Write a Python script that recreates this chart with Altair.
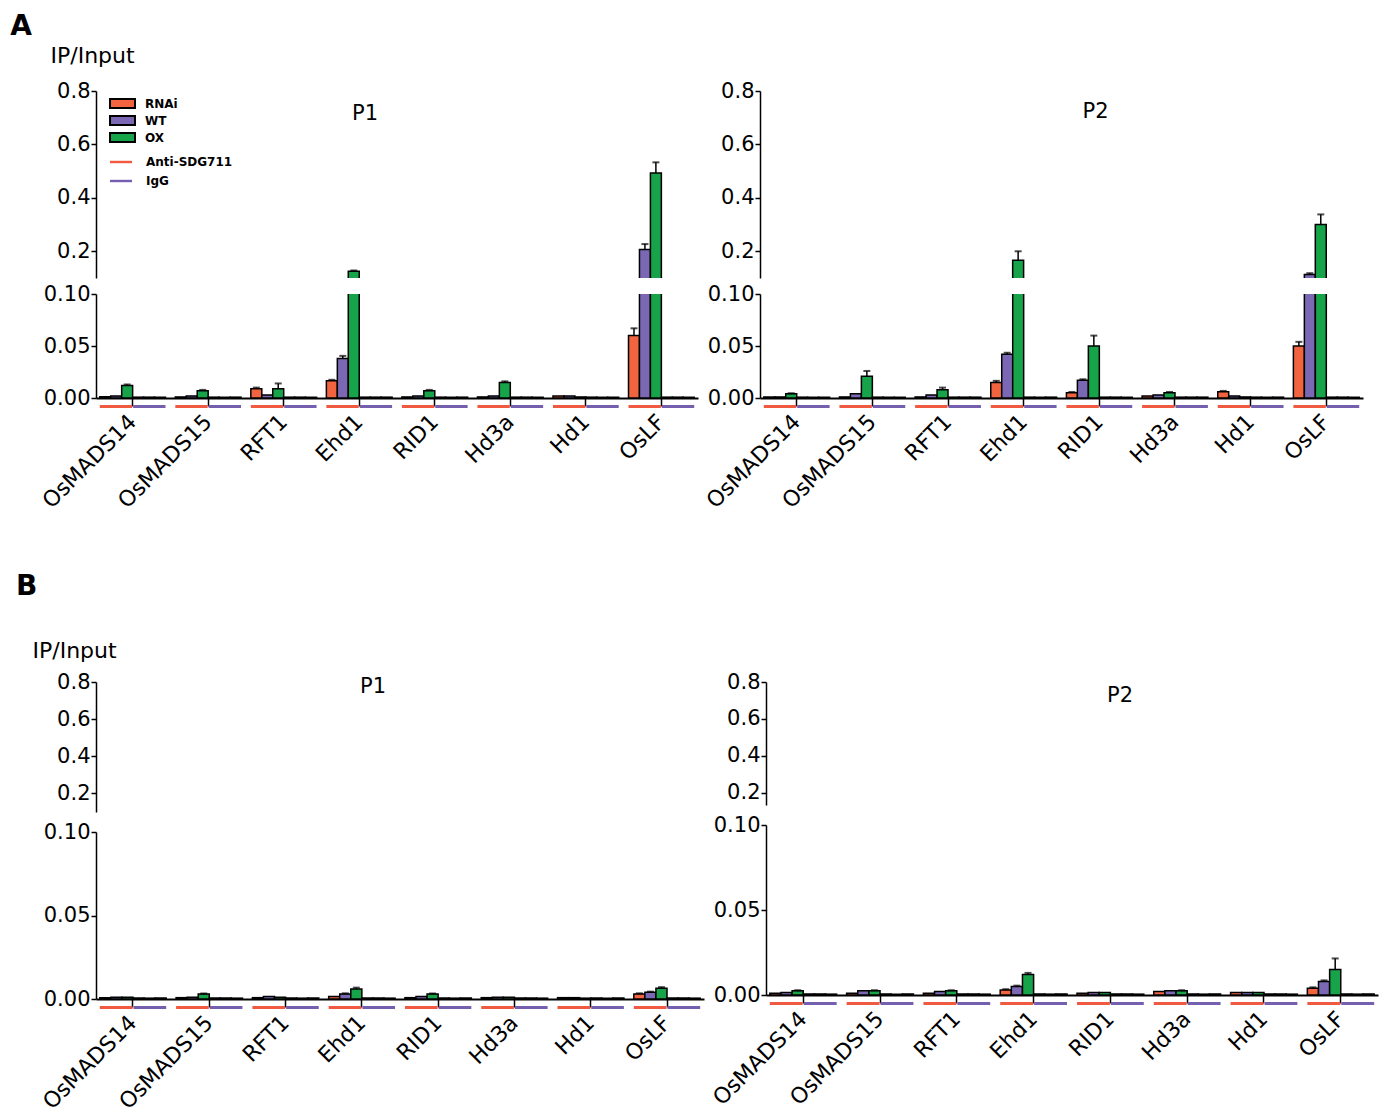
import altair as alt
import pandas as pd

genes = ["OsMADS14", "OsMADS15", "RFT1", "Ehd1", "RID1", "Hd3a", "Hd1", "OsLF"]
genotypes = ["RNAi", "WT", "OX"]
antibodies = ["Anti-SDG711", "IgG"]
geno_colors = ["#f26440", "#7b68b4", "#17a34a"]
ab_colors = ["#f05a40", "#7560b0"]

# ---- Panel A, P1 (Anti-SDG711) ----
a1_rnai = [0.0012, 0.0010, 0.0090, 0.0165, 0.0010, 0.0010, 0.0020, 0.0600]
a1_wt = [0.0020, 0.0020, 0.0030, 0.0380, 0.0020, 0.0020, 0.0020, 0.2070]
a1_ox = [0.0120, 0.0070, 0.0090, 0.1250, 0.0070, 0.0150, 0.0010, 0.4930]
a1_rnai_err = [0.0, 0.0, 0.0010, 0.0010, 0.0, 0.0, 0.0, 0.0070]
a1_wt_err = [0.0, 0.0, 0.0, 0.0025, 0.0, 0.0, 0.0, 0.0200]
a1_ox_err = [0.0010, 0.0008, 0.0050, 0.0030, 0.0008, 0.0010, 0.0, 0.0400]
a1_igg_rnai = [0.0008, 0.0008, 0.0008, 0.0008, 0.0008, 0.0008, 0.0008, 0.0008]
a1_igg_wt = [0.0008, 0.0007, 0.0008, 0.0008, 0.0007, 0.0008, 0.0007, 0.0008]
a1_igg_ox = [0.0007, 0.0008, 0.0007, 0.0008, 0.0008, 0.0007, 0.0008, 0.0007]

# ---- Panel A, P2 ----
a2_rnai = [0.0010, 0.0010, 0.0010, 0.0150, 0.0050, 0.0020, 0.0060, 0.0500]
a2_wt = [0.0010, 0.0040, 0.0030, 0.0420, 0.0170, 0.0030, 0.0020, 0.1130]
a2_ox = [0.0040, 0.0210, 0.0080, 0.1660, 0.0500, 0.0050, 0.0010, 0.3000]
a2_rnai_err = [0.0, 0.0, 0.0, 0.0015, 0.0008, 0.0, 0.0008, 0.0040]
a2_wt_err = [0.0, 0.0, 0.0, 0.0015, 0.0010, 0.0, 0.0, 0.0050]
a2_ox_err = [0.0005, 0.0050, 0.0020, 0.0340, 0.0100, 0.0008, 0.0, 0.0380]
a2_igg_rnai = [0.0008, 0.0008, 0.0008, 0.0008, 0.0008, 0.0008, 0.0008, 0.0008]
a2_igg_wt = [0.0007, 0.0008, 0.0008, 0.0007, 0.0008, 0.0008, 0.0007, 0.0008]
a2_igg_ox = [0.0008, 0.0007, 0.0008, 0.0008, 0.0007, 0.0008, 0.0008, 0.0007]

# ---- Panel B, P1 ----
b1_rnai = [0.0008, 0.0008, 0.0008, 0.0015, 0.0008, 0.0008, 0.0008, 0.0030]
b1_wt = [0.0010, 0.0010, 0.0015, 0.0030, 0.0015, 0.0010, 0.0008, 0.0040]
b1_ox = [0.0010, 0.0030, 0.0010, 0.0060, 0.0030, 0.0010, 0.0005, 0.0065]
b1_rnai_err = [0.0, 0.0, 0.0, 0.0, 0.0, 0.0, 0.0, 0.0004]
b1_wt_err = [0.0, 0.0, 0.0, 0.0004, 0.0, 0.0, 0.0, 0.0004]
b1_ox_err = [0.0, 0.0003, 0.0, 0.0008, 0.0003, 0.0, 0.0, 0.0006]
b1_igg_rnai = [0.0006, 0.0006, 0.0006, 0.0006, 0.0006, 0.0006, 0.0006, 0.0006]
b1_igg_wt = [0.0005, 0.0006, 0.0005, 0.0006, 0.0005, 0.0006, 0.0005, 0.0006]
b1_igg_ox = [0.0006, 0.0005, 0.0006, 0.0005, 0.0006, 0.0005, 0.0006, 0.0005]

# ---- Panel B, P2 ----
b2_rnai = [0.0010, 0.0010, 0.0010, 0.0030, 0.0010, 0.0020, 0.0015, 0.0040]
b2_wt = [0.0015, 0.0025, 0.0020, 0.0050, 0.0015, 0.0025, 0.0015, 0.0080]
b2_ox = [0.0025, 0.0025, 0.0025, 0.0120, 0.0015, 0.0025, 0.0015, 0.0150]
b2_rnai_err = [0.0, 0.0, 0.0, 0.0004, 0.0, 0.0, 0.0, 0.0005]
b2_wt_err = [0.0, 0.0, 0.0, 0.0005, 0.0, 0.0, 0.0, 0.0006]
b2_ox_err = [0.0003, 0.0003, 0.0003, 0.0010, 0.0, 0.0003, 0.0, 0.0065]
b2_igg_rnai = [0.0006, 0.0006, 0.0006, 0.0006, 0.0006, 0.0006, 0.0006, 0.0006]
b2_igg_wt = [0.0006, 0.0005, 0.0006, 0.0005, 0.0006, 0.0005, 0.0006, 0.0005]
b2_igg_ox = [0.0005, 0.0006, 0.0005, 0.0006, 0.0005, 0.0006, 0.0005, 0.0006]

sub_order = [a + " " + g for a in antibodies for g in genotypes]
FONT = "DejaVu Sans"


def build(rnai, wt, ox, rnai_e, wt_e, ox_e, g_rnai, g_wt, g_ox):
    rows = []
    for i, gene in enumerate(genes):
        for geno, vals, errs in (("RNAi", rnai, rnai_e), ("WT", wt, wt_e), ("OX", ox, ox_e)):
            rows.append(dict(gene=gene, antibody="Anti-SDG711", genotype=geno,
                             sub="Anti-SDG711 " + geno, value=vals[i], err=errs[i]))
        for geno, vals in (("RNAi", g_rnai), ("WT", g_wt), ("OX", g_ox)):
            rows.append(dict(gene=gene, antibody="IgG", genotype=geno,
                             sub="IgG " + geno, value=vals[i], err=0.0))
    df = pd.DataFrame(rows)
    df["hi"] = df["value"] + df["err"]
    return df


under_df = pd.DataFrame([dict(gene=g, antibody=a) for g in genes for a in antibodies])


def panel(df, name, tdx, tdy, up_dom, up_h, lo_dom, lo_h, width, gap,
          ytitle=None, ytx=0, yty=0, legend=False):
    xsc = alt.Scale(paddingInner=0.13, paddingOuter=0.05)
    xo = alt.XOffset("sub:N", sort=sub_order,
                     scale=alt.Scale(domain=sub_order, paddingInner=0, paddingOuter=0))

    fill_leg = None
    ab_leg = None
    if legend:
        fill_leg = alt.Legend(title=None, orient="none", legendX=19, legendY=5,
                              symbolType="M-2,-0.72H2V0.72H-2Z", symbolSize=156,
                              symbolStrokeColor="black", symbolStrokeWidth=2,
                              symbolOpacity=1,
                              labelFont=FONT, labelFontSize=12, labelFontWeight="bold",
                              rowPadding=0, labelOffset=15)
        ab_leg = alt.Legend(title=None, orient="none", legendX=19, legendY=65,
                            symbolType="M-2,-0.22H2V0.22H-2Z", symbolSize=121,
                            symbolStrokeWidth=0, symbolOpacity=1,
                            labelFont=FONT, labelFontSize=12, labelFontWeight="bold",
                            rowPadding=7, labelOffset=19)

    def ax_y(values, fmt, title=None):
        kw = dict(values=values, format=fmt, labelFont=FONT, labelFontSize=21,
                  labelColor="black", tickColor="black", domainColor="black",
                  tickSize=5, tickWidth=1.5, domainWidth=1.5, labelPadding=1,
                  grid=False)
        if title:
            kw.update(title=title, titleAngle=0, titleAlign="left", titleBaseline="alphabetic",
                      titleX=ytx, titleY=yty, titleFont=FONT, titleFontSize=22,
                      titleFontWeight="normal", titleColor="black")
        else:
            kw.update(title=None)
        return alt.Axis(**kw)

    def data_layers(ydom, yaxis, xaxis, leg):
        ysc = alt.Scale(domain=ydom, nice=False, zero=False)
        x = alt.X("gene:N", sort=genes, scale=xsc, title=None, axis=xaxis)
        base = alt.Chart(df)
        bars = base.mark_bar(clip=True, stroke="black", strokeWidth=1.5).encode(
            x=x, xOffset=xo,
            y=alt.Y("value:Q", scale=ysc, axis=yaxis),
            fill=alt.Fill("genotype:N", sort=genotypes,
                          scale=alt.Scale(domain=genotypes, range=geno_colors), legend=leg),
        )
        eb = base.transform_filter("datum.err > 0")
        rule = eb.mark_rule(clip=True, color="black", strokeWidth=1.5).encode(
            x=x, xOffset=xo, y=alt.Y("value:Q"), y2=alt.Y2("hi:Q"))
        cap = eb.mark_tick(clip=True, color="black", thickness=2, size=7).encode(
            x=x, xOffset=xo, y=alt.Y("hi:Q"))
        return [bars, rule, cap]

    up_axis = ax_y([0.2, 0.4, 0.6, 0.8], ".1f", ytitle)
    label = alt.Chart(pd.DataFrame({"label": [name]})).mark_text(
        font=FONT, fontSize=21, color="black", align="center", baseline="alphabetic"
    ).encode(text="label:N", x=alt.value(width / 2 + tdx), y=alt.value(tdy))
    upper = alt.layer(*data_layers(up_dom, up_axis, None, fill_leg), label).properties(
        width=width, height=up_h)

    xaxis = alt.Axis(labelAngle=-45, labelAlign="right", labelBaseline="middle",
                     labelFont=FONT, labelFontSize=22, labelColor="black",
                     labelPadding=12, tickSize=8, tickWidth=1.5, tickColor="black",
                     domainColor="black", domainWidth=2, grid=False)
    lo_axis = ax_y([0.0, 0.05, 0.10], ".2f")
    lay = data_layers(lo_dom, lo_axis, xaxis, None)
    uline = alt.Chart(under_df).mark_bar().encode(
        x=alt.X("gene:N", sort=genes, scale=xsc),
        xOffset=alt.XOffset("antibody:N", sort=antibodies,
                            scale=alt.Scale(domain=antibodies, paddingInner=0.03, paddingOuter=0)),
        y=alt.value(lo_h + 7), y2=alt.value(lo_h + 10),
        color=alt.Color("antibody:N", sort=antibodies,
                        scale=alt.Scale(domain=antibodies, range=ab_colors), legend=ab_leg),
    )
    lower = alt.layer(*lay, uline).resolve_scale(xOffset="independent").properties(
        width=width, height=lo_h)
    # spacing excludes the half-height of the top y label of the lower axis
    return alt.vconcat(upper, lower, spacing=gap - 11)


dfA1 = build(a1_rnai, a1_wt, a1_ox, a1_rnai_err, a1_wt_err, a1_ox_err, a1_igg_rnai, a1_igg_wt, a1_igg_ox)
dfA2 = build(a2_rnai, a2_wt, a2_ox, a2_rnai_err, a2_wt_err, a2_ox_err, a2_igg_rnai, a2_igg_wt, a2_igg_ox)
dfB1 = build(b1_rnai, b1_wt, b1_ox, b1_rnai_err, b1_wt_err, b1_ox_err, b1_igg_rnai, b1_igg_wt, b1_igg_ox)
dfB2 = build(b2_rnai, b2_wt, b2_ox, b2_rnai_err, b2_wt_err, b2_ox_err, b2_igg_rnai, b2_igg_wt, b2_igg_ox)

pA1 = panel(dfA1, "P1", -32, 29, [0.1, 0.8], 187, [0.0, 0.1], 104, 602, 16,
            ytitle="IP/Input", ytx=-46, yty=-29, legend=True)
pA2 = panel(dfA2, "P2", 34, 27, [0.1, 0.8], 187, [0.0, 0.1], 104, 603, 16)
pB1 = panel(dfB1, "P1", -27, 11, [0.1, 0.8], 130, [0.0, 0.1], 167, 608, 20,
            ytitle="IP/Input", ytx=-64, yty=-25)
pB2 = panel(dfB2, "P2", 48, 20, [0.134, 0.8], 123, [0.0, 0.1], 170, 612, 20)

rowA = alt.hconcat(pA1, pA2, spacing=4).properties(
    title=alt.TitleParams("A", anchor="start", fontSize=28, font=FONT, fontWeight="bold",
                          color="black", dx=-28, offset=3))
rowB = alt.hconcat(pB1, pB2, spacing=4).properties(
    title=alt.TitleParams("B", anchor="start", fontSize=28, font=FONT, fontWeight="bold",
                          color="black", dx=-16, offset=38))

chart = alt.vconcat(rowA, rowB, spacing=61).properties(
    padding={"left": 2, "top": 5, "right": 2, "bottom": 2}
).configure(font=FONT).configure_view(stroke=None)

chart.save("out.html", embed_options={"renderer": "svg", "actions": False})
